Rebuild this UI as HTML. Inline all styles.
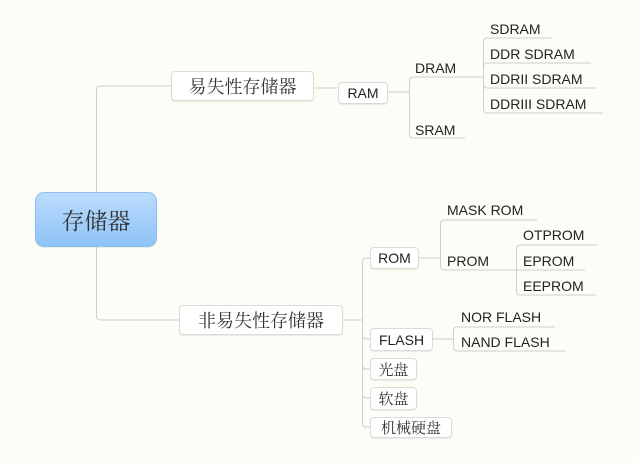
<!DOCTYPE html>
<html><head><meta charset="utf-8"><style>
html,body{margin:0;padding:0;}
body{width:639px;height:463px;background:#fdfdf7;position:relative;overflow:hidden;font-family:"Liberation Sans","Noto Sans CJK SC",sans-serif;color:#222;}
.t{position:absolute;font-size:14px;line-height:16px;white-space:nowrap;}
.b{position:absolute;border:1px solid #dcdcd6;border-radius:4px;background:#fff;box-shadow:0 1px 1px rgba(0,0,0,0.08);box-sizing:border-box;display:flex;align-items:center;justify-content:center;white-space:nowrap;}
.cn{font-family:"Noto Serif CJK SC","Noto Sans CJK SC",serif;color:#333;}
</style></head><body>
<svg width="639" height="463" style="position:absolute;left:0;top:0" fill="none" stroke="#cfcfc8" stroke-width="1">
<path d="M96.5 193V90q0-4 4-4H171"/>
<path d="M96.5 247V316q0 4 4 4H179"/>
<path d="M314 88H337"/>
<path d="M388 92H409.5"/>
<path d="M409.5 92V81q0-4 4-4H483"/>
<path d="M409.5 92V134q0 4 4 4H465"/>
<path d="M483.5 77V42q0-4 4-4H552"/>
<path d="M483.5 77V67q0-4 4-4H591"/>
<path d="M483.5 77V84q0 4 4 4H597"/>
<path d="M483.5 77V109q0 4 4 4H603"/>
<path d="M343 320H362.5"/>
<path d="M362.5 320V262q0-4 4-4H370"/>
<path d="M362.5 320V335q0 4 4 4H370"/>
<path d="M362.5 320V365q0 4 4 4H370"/>
<path d="M362.5 320V394q0 4 4 4H370"/>
<path d="M362.5 320V423q0 4 4 4H370"/>
<path d="M419 258H440.5"/>
<path d="M440.5 258V224q0-4 4-4H537"/>
<path d="M440.5 258V266q0 4 4 4H516"/>
<path d="M516.5 270V249q0-4 4-4H597"/>
<path d="M516.5 270V270H585"/>
<path d="M516.5 270V291q0 4 4 4H596"/>
<path d="M433 339H453.5"/>
<path d="M453.5 339V331q0-4 4-4H555"/>
<path d="M453.5 339V347q0 4 4 4H565"/>
</svg>
<div class="b cn" style="left:35px;top:192px;width:122px;height:55px;border:1px solid #8fbff0;border-radius:9px;background:linear-gradient(#bcdcfd,#8ec3f8);font-size:23px;color:#333;">存储器</div>
<div class="b cn" style="left:171px;top:71px;width:143px;height:30px;font-size:18px;">易失性存储器</div>
<div class="b" style="left:338px;top:82px;width:50px;height:22px;font-size:14px;">RAM</div>
<div class="t" style="left:415px;top:60px;">DRAM</div>
<div class="t" style="left:415px;top:122px;">SRAM</div>
<div class="t" style="left:490px;top:21px;">SDRAM</div>
<div class="t" style="left:490px;top:46px;">DDR SDRAM</div>
<div class="t" style="left:490px;top:71px;">DDRII SDRAM</div>
<div class="t" style="left:490px;top:96px;">DDRIII SDRAM</div>
<div class="b cn" style="left:179px;top:305px;width:164px;height:30px;font-size:18px;">非易失性存储器</div>
<div class="b" style="left:370px;top:247px;width:49px;height:22px;font-size:14px;">ROM</div>
<div class="b" style="left:370px;top:328px;width:63px;height:23px;font-size:14px;">FLASH</div>
<div class="b cn" style="left:370px;top:358px;width:47px;height:22px;font-size:15px;">光盘</div>
<div class="b cn" style="left:370px;top:387px;width:47px;height:23px;font-size:15px;">软盘</div>
<div class="b cn" style="left:370px;top:417px;width:82px;height:21px;font-size:15px;">机械硬盘</div>
<div class="t" style="left:447px;top:202px;">MASK ROM</div>
<div class="t" style="left:447px;top:253px;">PROM</div>
<div class="t" style="left:523px;top:227px;">OTPROM</div>
<div class="t" style="left:523px;top:253px;">EPROM</div>
<div class="t" style="left:523px;top:278px;">EEPROM</div>
<div class="t" style="left:461px;top:309px;">NOR FLASH</div>
<div class="t" style="left:461px;top:334px;">NAND FLASH</div>
</body></html>
